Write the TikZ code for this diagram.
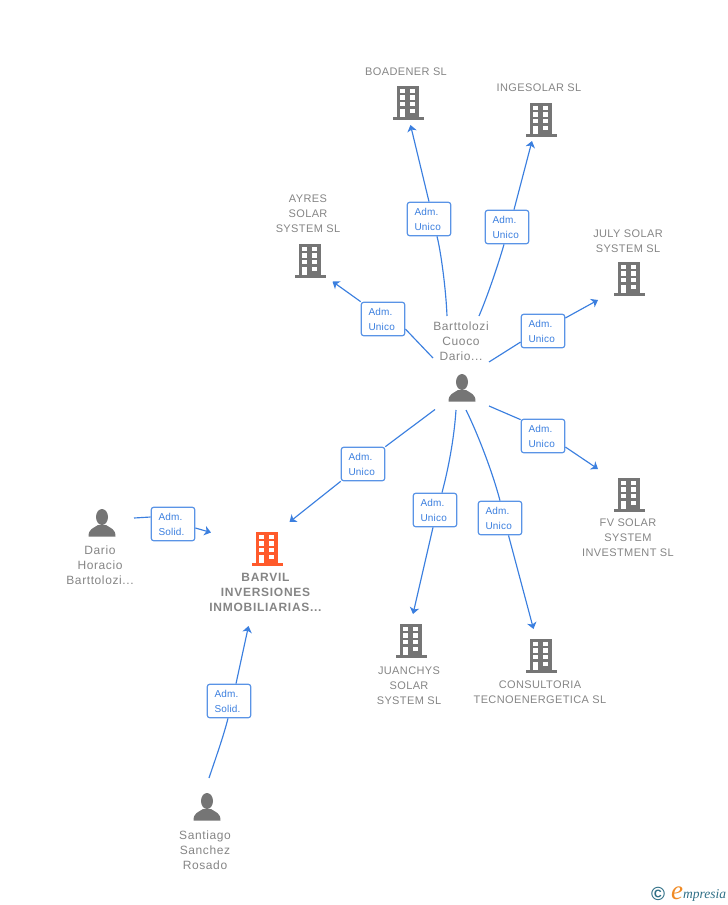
\documentclass[tikz,border=0pt]{standalone}
\usepackage{fontspec}
\setmainfont{Liberation Sans}
\newfontfamily\logofont{Liberation Serif}
\usetikzlibrary{arrows.meta,backgrounds}
\definecolor{linkblue}{HTML}{3B7FDF}
\definecolor{boxblue}{HTML}{5A94E6}
\definecolor{icongray}{HTML}{757575}
\definecolor{labelgray}{HTML}{858585}
\definecolor{mainorange}{HTML}{FF5A2B}
\definecolor{logoteal}{HTML}{2F6F86}
\definecolor{logoorange}{HTML}{F08A24}
\tikzset{
  x=1pt,y=-1pt,
  rolebox/.style={draw=boxblue,line width=1.2pt,fill=white,rounded corners=2.5pt,minimum width=43.5pt,minimum height=33.5pt,inner sep=0pt,text=linkblue,font=\fontsize{10}{15}\selectfont\addfontfeature{LetterSpace=2},align=left,text width=29pt},
  link/.style={draw=linkblue,line width=1.15pt},
  linkend/.style={link,-{Stealth[length=6.5pt,width=9.5pt,inset=1.8pt]}},
  caption/.style={text=labelgray,font=\fontsize{11}{15}\selectfont\addfontfeature{LetterSpace=3.5},align=center,inner sep=0pt},
  namecaption/.style={caption,font=\fontsize{12}{15}\selectfont\addfontfeature{LetterSpace=5}},
  bcaption/.style={caption,font=\bfseries\fontsize{12}{15}\selectfont\addfontfeature{LetterSpace=6}},
  pics/building/.style={code={
    \fill[#1] (-11,-16) rectangle (11,15);
    \fill[#1] (-15.5,15) rectangle (16,17.5);
    \foreach \yy in {-13.5,-6.8,-0.2}{
      \fill[white] (-7.7,\yy) rectangle (-2.7,\yy+4.6);
      \fill[white] (2.3,\yy) rectangle (7.3,\yy+4.6);
    }
    \fill[white] (-7.7,7) rectangle (-2.7,15);
    \fill[white] (2.3,7) rectangle (7.3,11.3);
  }},
  pics/person/.style={code={
    \fill[icongray] (0,-6) circle[x radius=6,y radius=8];
    \fill[icongray] (-13.5,13.7) .. controls (-13.7,6) and (-9,5.5) .. (-4,2) -- (4,2) .. controls (9,5.5) and (13.7,6) .. (13.5,13.7) -- cycle;
  }}
}
\begin{document}
\begin{tikzpicture}
\useasboundingbox (0,0) rectangle (728,905);

% icons and captions
\pic at (408,102) {building=icongray};
\node[caption] (cBoadener) at (406,72) {BOADENER SL};
\pic at (541,119) {building=icongray};
\node[caption] (cIngesolar) at (539,88) {INGESOLAR SL};
\pic at (310,260) {building=icongray};
\node[caption] (cAyres) at (308,214) {AYRES\\SOLAR\\SYSTEM SL};
\pic at (629,278) {building=icongray};
\node[caption] (cJuly) at (628,241) {JULY SOLAR\\SYSTEM SL};
\pic at (629,494) {building=icongray};
\node[caption] (cFv) at (628,538) {FV SOLAR\\SYSTEM\\INVESTMENT SL};
\pic at (411,640) {building=icongray};
\node[caption] (cJuan) at (409,686) {JUANCHYS\\SOLAR\\SYSTEM SL};
\pic at (541,655) {building=icongray};
\node[caption] (cCons) at (540,692) {CONSULTORIA\\TECNOENERGETICA SL};
\pic at (267,548) {building=mainorange};
\node[bcaption] (cBarvil) at (265.5,592) {BARVIL\\INVERSIONES\\INMOBILIARIAS...};

\pic at (462,388) {person};
\node[namecaption] (cHub) at (461,341) {Barttolozi\\Cuoco\\Dario...};
\pic at (102,523) {person};
\node[namecaption] (cDario) at (100,565) {Dario\\Horacio\\Barttolozi...};
\pic at (207,807) {person};
\node[namecaption] (cSant) at (205,850) {Santiago\\Sanchez\\Rosado};

% role boxes
\node[rolebox] (r1) at (429,219) {Adm.\\Unico};
\node[rolebox] (r2) at (507,227) {Adm.\\Unico};
\node[rolebox] (r3) at (383,319) {Adm.\\Unico};
\node[rolebox] (r4) at (543,331) {Adm.\\Unico};
\node[rolebox] (r5) at (543,436) {Adm.\\Unico};
\node[rolebox] (r6) at (363,464) {Adm.\\Unico};
\node[rolebox] (r7) at (435,510) {Adm.\\Unico};
\node[rolebox] (r8) at (500,518) {Adm.\\Unico};
\node[rolebox] (r9) at (173,524) {Adm.\\Solid.};
\node[rolebox] (r10) at (229,701) {Adm.\\Solid.};

% connector ends
\coordinate (s1) at (447,316); \coordinate (e1) at (410.5,125);
\coordinate (s2) at (479,316); \coordinate (e2) at (532,141);
\coordinate (s3) at (433,358); \coordinate (e3) at (332.5,281.5);
\coordinate (s4) at (489,362); \coordinate (e4) at (598,300);
\coordinate (s5) at (489,406); \coordinate (e5) at (598,469);
\coordinate (s6) at (435,409.5); \coordinate (e6) at (289.5,522);
\coordinate (s7) at (456,410); \coordinate (e7) at (413,614);
\coordinate (s8) at (466,410); \coordinate (e8) at (533.5,629);
\coordinate (s9) at (134,518); \coordinate (e9) at (211,532.5);
\coordinate (s10) at (209,778); \coordinate (e10) at (248.5,626);

\begin{scope}[on background layer]
\draw[link] (s1) .. controls (446,290) and (441,252) .. ([xshift=8pt]r1.south);
\draw[linkend] (r1.north) -- (e1);
\draw[link] (s2) .. controls (488,295) and (499,262) .. ([xshift=-3pt]r2.south);
\draw[linkend] ([xshift=7pt]r2.north) -- (e2);
\draw[link] (s3) -- ([yshift=-10pt]r3.east);
\draw[linkend] (r3.north west) -- (e3);
\draw[link] (s4) -- ([yshift=-11pt]r4.west);
\draw[linkend] ([yshift=13pt]r4.east) -- (e4);
\draw[link] (s5) -- ([yshift=-1pt]r5.north west);
\draw[linkend] ([yshift=-11pt]r5.east) -- (e5);
\draw[link] (s6) -- (r6.north east);
\draw[linkend] (r6.south west) -- (e6);
\draw[link] (s7) .. controls (454,440) and (448,470) .. ([xshift=7pt]r7.north);
\draw[linkend] ([xshift=-2pt]r7.south) -- (e7);
\draw[link] (s8) .. controls (476,430) and (492,470) .. (r8.north);
\draw[linkend] ([xshift=8.5pt]r8.south) -- (e8);
\draw[link] (s9) -- ([yshift=7pt]r9.west);
\draw[linkend] ([yshift=-4pt]r9.east) -- (e9);
\draw[link] (s10) .. controls (215,760) and (223,738) .. ([xshift=-1pt]r10.south);
\draw[linkend] ([xshift=7pt]r10.north) -- (e10);
\end{scope}

% logo
\node[text=logoteal,font=\bfseries\fontsize{19}{19}\selectfont,inner sep=0pt] (logoC) at (658,894) {©};
\node[text=logoorange,font=\logofont\itshape\fontsize{27}{27}\selectfont,inner sep=0pt] (logoE) at (677,893) {e};
\node[text=logoteal,font=\logofont\itshape\fontsize{13.5}{14}\selectfont,inner sep=0pt,anchor=west] (logoT) at (683,895) {mpresia};
\end{tikzpicture}
\end{document}
